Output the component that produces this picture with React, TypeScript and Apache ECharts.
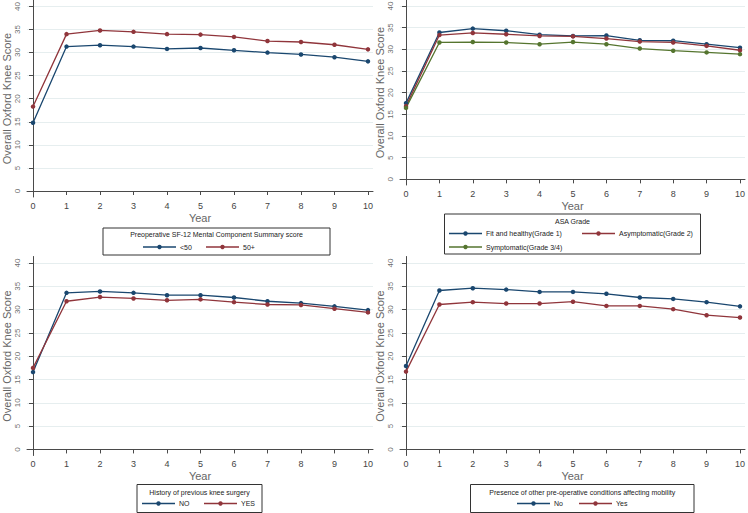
import React, { useEffect, useRef } from "react";
import * as echarts from "echarts";

const years = [0, 1, 2, 3, 4, 5, 6, 7, 8, 9, 10];
const yTicks = [0, 5, 10, 15, 20, 25, 30, 35, 40];

const mcsLow = [14.8, 31.3, 31.6, 31.3, 30.8, 31.0, 30.5, 30.0, 29.6, 29.0, 28.1];
const mcsHigh = [18.3, 34.0, 34.8, 34.5, 34.0, 33.9, 33.4, 32.5, 32.3, 31.7, 30.7];
const asaFit = [17.6, 33.9, 34.8, 34.3, 33.4, 33.1, 33.2, 32.1, 32.0, 31.2, 30.4];
const asaAsym = [16.9, 33.3, 33.8, 33.5, 33.1, 33.0, 32.5, 31.8, 31.6, 30.8, 29.8];
const asaSymp = [16.5, 31.6, 31.7, 31.6, 31.2, 31.7, 31.2, 30.2, 29.7, 29.3, 28.9];
const surgNo = [16.6, 33.6, 33.9, 33.6, 33.1, 33.1, 32.6, 31.8, 31.4, 30.7, 29.9];
const surgYes = [17.5, 31.8, 32.7, 32.4, 32.0, 32.2, 31.6, 31.1, 31.0, 30.2, 29.4];
const mobNo = [17.9, 34.1, 34.6, 34.3, 33.8, 33.8, 33.4, 32.6, 32.3, 31.6, 30.7];
const mobYes = [16.7, 31.1, 31.6, 31.3, 31.3, 31.7, 30.8, 30.8, 30.1, 28.8, 28.3];

const NAVY = "#1a476f";
const MAROON = "#90353b";
const GREEN = "#55752f";
const FONT = "Liberation Sans, Arial, sans-serif";
const TEXT = "#444";
const AXIS = "#4a4a4a";
const X_MIN = -0.18;
const X_MAX = 10.15;
const Y_MIN = -1.3;
const Y_MAX = 41.4;

const panels = [
  {
    grid: { left: 26, top: 0, width: 347, height: 197 },
    title: "Preoperative SF-12 Mental Component Summary score",
    series: [
      { name: "<50", data: mcsLow, color: NAVY },
      { name: "50+", data: mcsHigh, color: MAROON },
    ],
    box: { x: 103, y: 228, w: 227, h: 27 },
    titleY: 234.5,
    items: [
      { x: 143, y: 247 },
      { x: 206, y: 247 },
    ],
  },
  {
    grid: { left: 400, top: 0, width: 347, height: 185 },
    title: "ASA Grade",
    series: [
      { name: "Fit and healthy(Grade 1)", data: asaFit, color: NAVY },
      { name: "Asymptomatic(Grade 2)", data: asaAsym, color: MAROON },
      { name: "Symptomatic(Grade 3/4)", data: asaSymp, color: GREEN },
    ],
    box: { x: 444.5, y: 214, w: 256, h: 40 },
    titleY: 221,
    items: [
      { x: 449, y: 233.5 },
      { x: 582, y: 233.5 },
      { x: 449, y: 247 },
    ],
  },
  {
    grid: { left: 26, top: 256.5, width: 347, height: 199 },
    title: "History of previous knee surgery",
    series: [
      { name: "NO", data: surgNo, color: NAVY },
      { name: "YES", data: surgYes, color: MAROON },
    ],
    box: { x: 137, y: 484.5, w: 125, h: 28 },
    titleY: 492.5,
    items: [
      { x: 142, y: 503.5 },
      { x: 204, y: 503.5 },
    ],
  },
  {
    grid: { left: 400, top: 256.5, width: 347, height: 199 },
    title: "Presence of other pre-operative conditions affecting mobility",
    series: [
      { name: "No", data: mobNo, color: NAVY },
      { name: "Yes", data: mobYes, color: MAROON },
    ],
    box: { x: 470.5, y: 484.5, w: 223.5, h: 28 },
    titleY: 492.5,
    items: [
      { x: 517, y: 503.5 },
      { x: 579, y: 503.5 },
    ],
  },
];

function buildOption() {
  const grid: any[] = [];
  const xAxis: any[] = [];
  const yAxis: any[] = [];
  const series: any[] = [];
  const graphic: any[] = [];

  panels.forEach((p, i) => {
    grid.push({ ...p.grid, containLabel: false });
    xAxis.push({
      gridIndex: i,
      type: "value",
      min: X_MIN,
      max: X_MAX,
      axisLine: { show: true, lineStyle: { color: AXIS, width: 1 } },
      axisTick: { show: true, customValues: years, length: 4, lineStyle: { color: AXIS } },
      axisLabel: { customValues: years, fontSize: 9, color: TEXT, margin: 4, fontFamily: FONT },
      splitLine: { show: false },
      name: "Year",
      nameLocation: "middle",
      nameGap: 15,
      nameTextStyle: { fontSize: 11, color: "#666", fontFamily: FONT, fontWeight: "normal" },
    });
    yAxis.push({
      gridIndex: i,
      type: "value",
      min: Y_MIN,
      max: Y_MAX,
      axisLine: { show: true, lineStyle: { color: AXIS, width: 1 } },
      axisTick: { show: true, customValues: yTicks, length: 4, lineStyle: { color: AXIS } },
      axisLabel: { show: false, customValues: yTicks },
      splitLine: { show: true, lineStyle: { color: "#e6eeef", width: 1 } },
      name: "Overall Oxford Knee Score",
      nameLocation: "middle",
      nameGap: 15,
      nameTextStyle: { fontSize: 11, color: "#666", fontFamily: FONT, fontWeight: "normal" },
    });
    // rotated y tick labels, placed through the axis scale
    series.push({
      type: "scatter",
      name: "ylabels" + i,
      xAxisIndex: i,
      yAxisIndex: i,
      data: yTicks.map((v) => [X_MIN, v]),
      symbolSize: 0,
      clip: false,
      silent: true,
      label: {
        show: true,
        position: "left",
        distance: 10,
        rotate: 90,
        align: "center",
        verticalAlign: "middle",
        formatter: (d: any) => String(d.value[1]),
        fontSize: 8,
        color: TEXT,
        fontFamily: FONT,
      },
    });
    p.series.forEach((s) => {
      series.push({
        type: "line",
        name: s.name,
        xAxisIndex: i,
        yAxisIndex: i,
        data: years.map((yr, k) => [yr, s.data[k]]),
        symbol: "circle",
        symbolSize: 4.5,
        showSymbol: true,
        color: s.color,
        lineStyle: { width: 1.3, color: s.color },
        itemStyle: { color: s.color },
      });
    });

    graphic.push({
      type: "rect",
      shape: { x: p.box.x, y: p.box.y, width: p.box.w, height: p.box.h },
      style: { fill: "#fff", stroke: "#333", lineWidth: 1 },
      z: 10,
    });
    graphic.push({
      type: "text",
      x: p.box.x + p.box.w / 2,
      y: p.titleY,
      style: {
        text: p.title,
        fontSize: 7,
        fontFamily: FONT,
        fill: "#222",
        align: "center",
        verticalAlign: "middle",
      },
      z: 11,
    });
    p.series.forEach((s, k) => {
      const it = p.items[k];
      graphic.push({
        type: "line",
        shape: { x1: it.x, y1: it.y, x2: it.x + 33, y2: it.y },
        style: { stroke: s.color, lineWidth: 1.3 },
        z: 11,
      });
      graphic.push({
        type: "circle",
        shape: { cx: it.x + 16.5, cy: it.y, r: 2.2 },
        style: { fill: s.color },
        z: 12,
      });
      graphic.push({
        type: "text",
        x: it.x + 37,
        y: it.y,
        style: {
          text: s.name,
          fontSize: 7,
          fontFamily: FONT,
          fill: "#222",
          align: "left",
          verticalAlign: "middle",
        },
        z: 11,
      });
    });
  });

  return {
    animation: false,
    backgroundColor: "#ffffff",
    grid,
    xAxis,
    yAxis,
    series,
    graphic,
  };
}

export default function App() {
  const ref = useRef<HTMLDivElement>(null);
  useEffect(() => {
    if (!ref.current) return;
    const chart = echarts.init(ref.current, undefined, { renderer: "svg" });
    chart.setOption(buildOption() as any);
    return () => chart.dispose();
  }, []);
  return (
    <div
      ref={ref}
      style={{ position: "fixed", left: 0, top: 0, width: 748, height: 513, background: "#fff" }}
    />
  );
}
